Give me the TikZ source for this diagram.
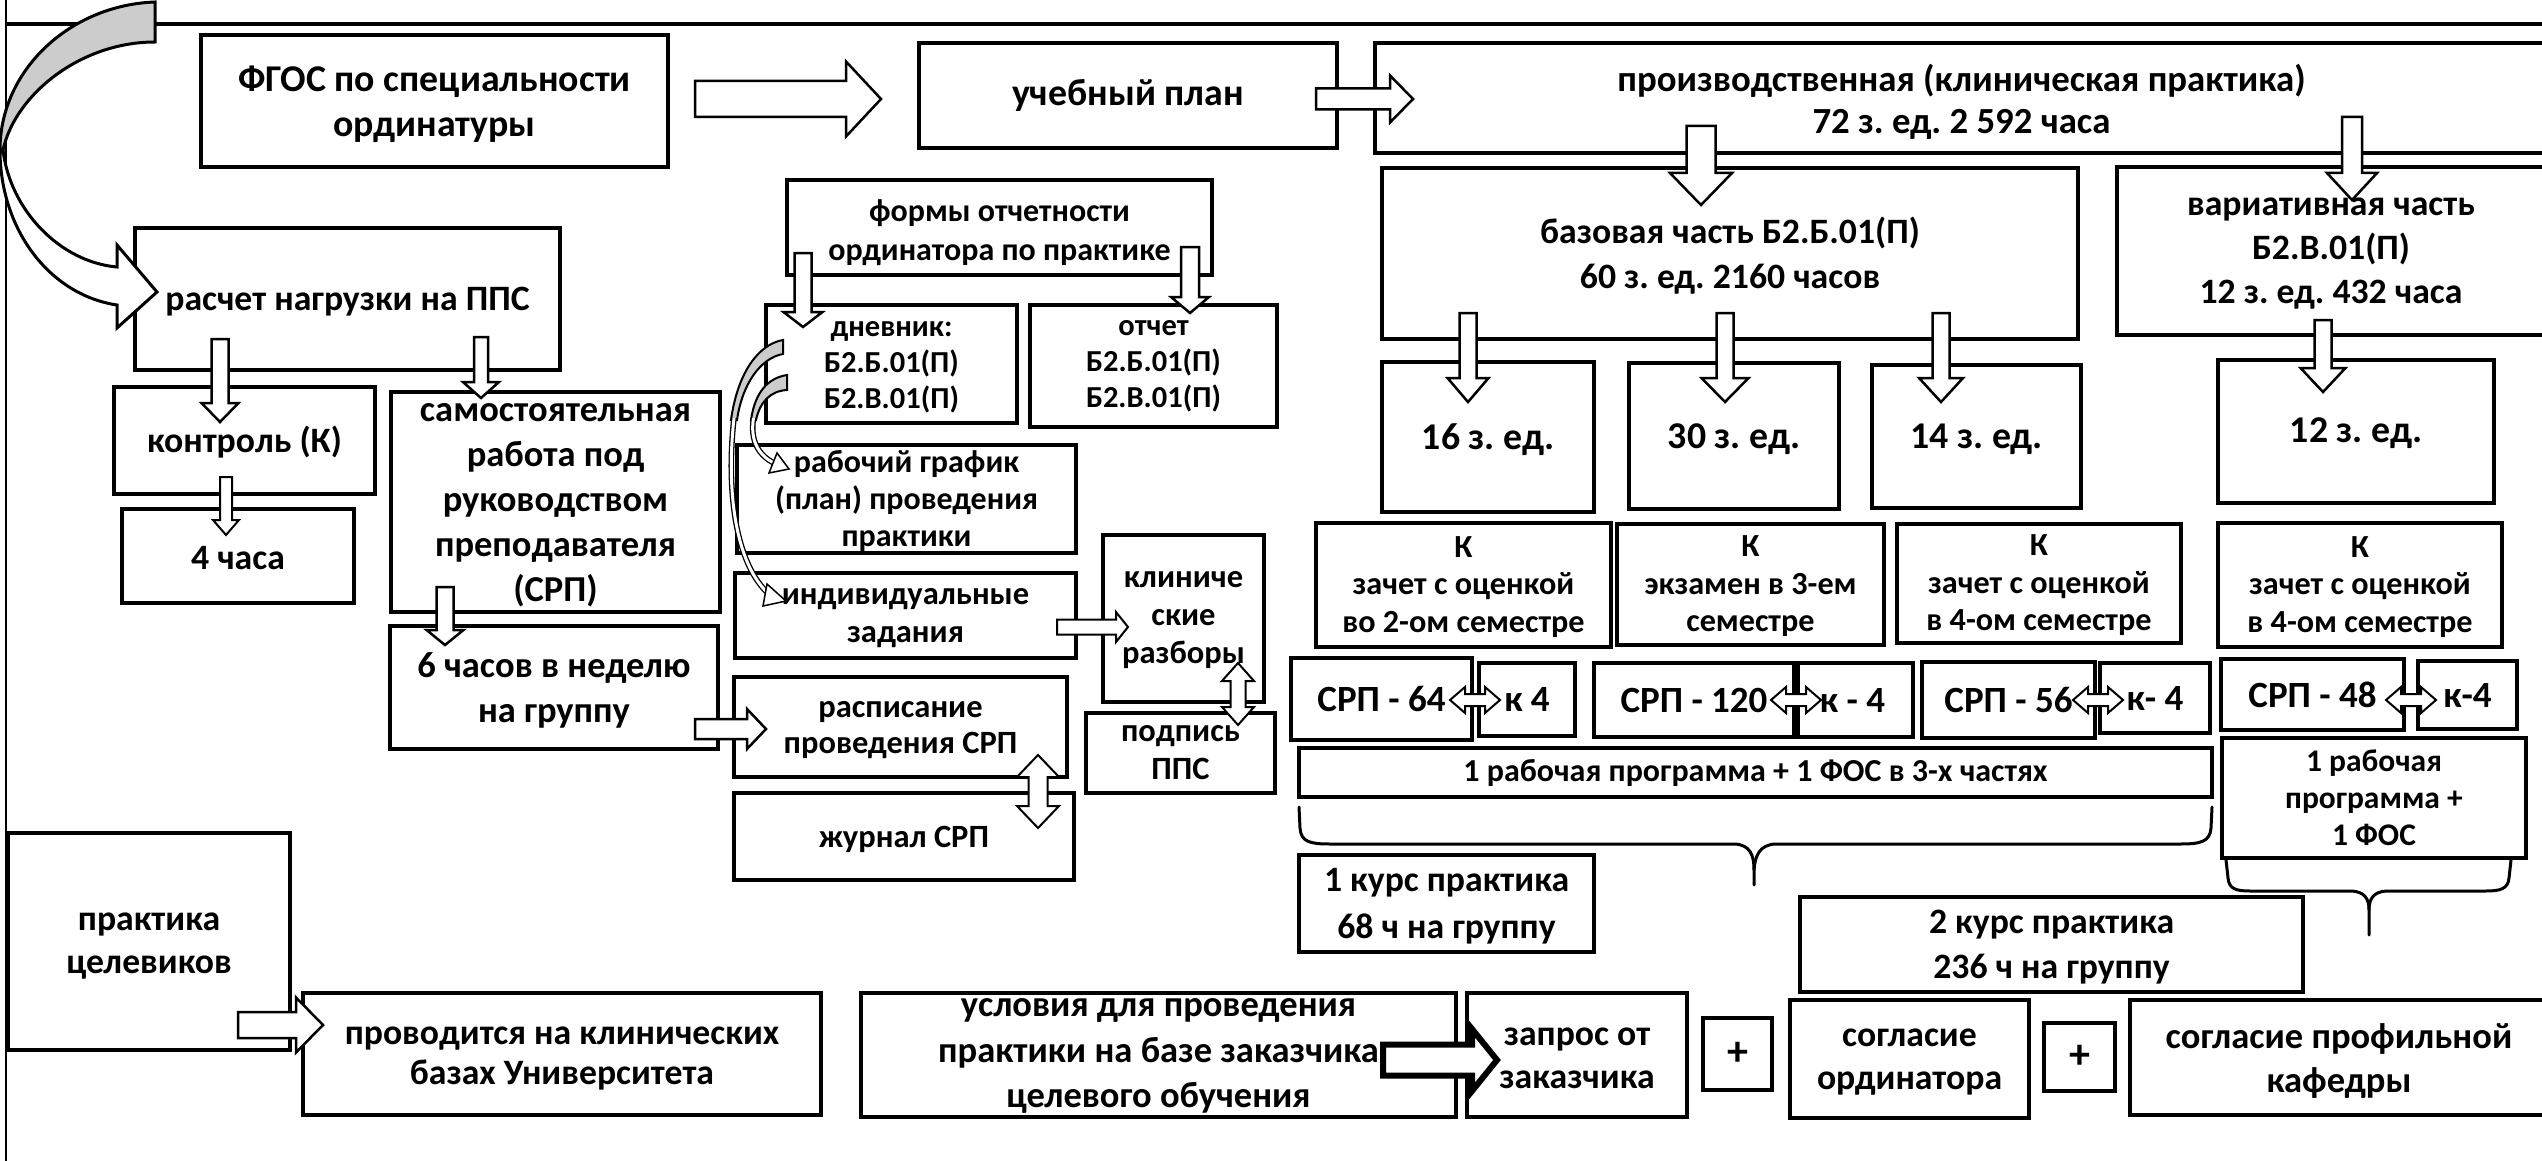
\documentclass[tikz,border=0pt]{standalone}
\usepackage{fontspec}
\setmainfont{Carlito}
\frenchspacing
\newcommand\fz[2]{\fontsize{#1pt}{#2pt}\selectfont}
% box: name, x1, y1, x2, y2, text
\newcommand\bx[7][]{%
  \node[box, minimum width={#5-#3}, minimum height={#6-#4}] (#2) at ({(#3+#5)/2},{(#4+#6)/2}) {};
  \node[txt,#1] (#2-t) at (#2.center) {#7};}
% down block arrow: x, ystart, ybase, ytip, shaft half, head half
\newcommand\arrD[7][]{%
  \filldraw[barrow,#1] ({#2-#6},#3) -- ({#2+#6},#3) -- ({#2+#6},#4) -- ({#2+#7},#4) -- (#2,#5) -- ({#2-#7},#4) -- ({#2-#6},#4) -- cycle;}
% right block arrow: y, xstart, xbase, xtip, shaft half, head half
\newcommand\arrR[7][]{%
  \filldraw[barrow,#1] (#3,{#2-#6}) -- (#4,{#2-#6}) -- (#4,{#2-#7}) -- (#5,#2) -- (#4,{#2+#7}) -- (#4,{#2+#6}) -- (#3,{#2+#6}) -- cycle;}
% vertical double arrow: x, ytop, ybottom, shaft half, head half, head len
\newcommand\darrV[6]{%
  \filldraw[barrow, line width=2pt] (#1,#2) -- ({#1+#5},{#2+#6}) -- ({#1+#4},{#2+#6}) -- ({#1+#4},{#3-#6}) -- ({#1+#5},{#3-#6}) -- (#1,#3) -- ({#1-#5},{#3-#6}) -- ({#1-#4},{#3-#6}) -- ({#1-#4},{#2+#6}) -- ({#1-#5},{#2+#6}) -- cycle;}
% horizontal double arrow: y, xleft, xright, shaft half, head half, head len
\newcommand\darrH[6]{%
  \filldraw[barrow, line width=2pt] (#2,#1) -- ({#2+#6},{#1-#5}) -- ({#2+#6},{#1-#4}) -- ({#3-#6},{#1-#4}) -- ({#3-#6},{#1-#5}) -- (#3,#1) -- ({#3-#6},{#1+#5}) -- ({#3-#6},{#1+#4}) -- ({#2+#6},{#1+#4}) -- ({#2+#6},{#1+#5}) -- cycle;}
\begin{document}
\begin{tikzpicture}[x=1pt,y=-1pt,
  box/.style={draw=black, line width=3.5pt, fill=white, inner sep=0pt, outer sep=0pt},
  txt/.style={align=center, inner sep=0pt, font=\bfseries\fz{35.7}{42}},
  barrow/.style={draw=black, line width=2.5pt, fill=white, line join=miter},
  ribbon/.style={draw=black, line width=2.5pt, fill=gray!40},
  brace/.style={draw=black, line width=3pt, line cap=round},
]
\useasboundingbox (0,0) rectangle (2542,1161);
\fill[white] (0,0) rectangle (2542,1161);

% frame
\draw[line width=1.5pt] (6,0) -- (6,1161);
\draw[line width=4.5pt] (6,24) -- (2560,24);

% top row
\bx[font=\bfseries\fz{37.8}{45}, yshift=-3]{fgos}{201}{35}{668}{167}{ФГОС по специальности\\ординатуры}
\bx[font=\bfseries\fz{37.8}{45}]{plan}{919}{43}{1337}{148}{учебный план}
\bx[font=\bfseries\fz{36.8}{42}, yshift=-4]{prod}{1375}{43}{2548}{153}{производственная (клиническая практика)\\72 з. ед. 2 592 часа}
\bx[font=\bfseries\fz{35.7}{45}, yshift=-2]{baz}{1382}{168}{2078}{339}{базовая часть Б2.Б.01(П)\\60 з. ед. 2160 часов}
\bx[font=\bfseries\fz{35.7}{44}, yshift=-3]{var}{2117}{167}{2545}{335}{вариативная часть\\Б2.В.01(П)\\12 з. ед. 432 часа}

% left column
\bx[yshift=-3]{rasch}{135}{228}{560}{370}{расчет нагрузки на ППС}
\bx[yshift=-2]{kontr}{114}{387}{375}{494}{контроль (К)}
\bx[yshift=-2]{chas4}{122}{509}{354}{603}{4 часа}
\bx[font=\bfseries\fz{36.5}{45}, yshift=-3]{samost}{391}{392}{720}{612}{самостоятельная\\работа под\\руководством\\преподавателя\\(СРП)}
\bx[font=\bfseries\fz{36.5}{45}, yshift=-3]{shest}{390}{626}{718}{749}{6 часов в неделю\\на группу}

% middle column
\bx[font=\bfseries\fz{32}{39}, yshift=-5]{formy}{787}{180}{1212}{275}{формы отчетности\\ординатора по практике}
\bx[font=\bfseries\fz{30.5}{36}, yshift=-3]{dnev}{766}{305}{1017}{423}{дневник:\\Б2.Б.01(П)\\Б2.В.01(П)}
\bx[font=\bfseries\fz{30.5}{36}]{otch}{1030}{305}{1277}{427}{отчет\\Б2.Б.01(П)\\Б2.В.01(П)}
\bx[font=\bfseries\fz{32}{37}, yshift=-2]{graf}{737}{445}{1076}{553}{рабочий график\\(план) проведения\\практики}
\bx[font=\bfseries\fz{32.5}{38}, yshift=-3]{indiv}{735}{573}{1076}{658}{индивидуальные\\задания}
\bx[font=\bfseries\fz{32.5}{36}, yshift=-3]{rasp}{734}{677}{1067}{777}{расписание\\проведения СРП}
\bx[font=\bfseries\fz{32.5}{38}, yshift=-3]{zhur}{734}{793}{1074}{880}{журнал СРП}
\bx[font=\bfseries\fz{32.5}{38}, yshift=-2]{klin}{1103}{535}{1264}{702}{клиниче\\ские\\разборы}
\bx[font=\bfseries\fz{32.5}{38}]{podp}{1086}{713}{1275}{793}{подпись\\ППС}

% credits boxes
\bx[font=\bfseries\fz{37.8}{44}, yshift=-3]{z16}{1382}{362}{1594}{512}{16 з. ед.}
\bx[font=\bfseries\fz{37.8}{44}, yshift=-3]{z30}{1629}{363}{1839}{509}{30 з. ед.}
\bx[font=\bfseries\fz{37.8}{44}, yshift=-3]{z14}{1872}{365}{2081}{508}{14 з. ед.}
\bx[font=\bfseries\fz{37.8}{44}, yshift=-2]{z12}{2218}{360}{2494}{503}{12 з. ед.}

% control boxes
\bx[font=\bfseries\fz{32.2}{37.5}, yshift=-2]{k1}{1316}{523}{1611}{647}{К\\зачет с оценкой\\во 2-ом семестре}
\bx[font=\bfseries\fz{32.2}{37.5}, yshift=-2]{k2}{1617}{524}{1884}{645}{К\\экзамен в 3-ем\\семестре}
\bx[font=\bfseries\fz{32.2}{37.5}, yshift=-2]{k3}{1897}{524}{2181}{643}{К\\зачет с оценкой\\в 4-ом семестре}
\bx[font=\bfseries\fz{32.2}{37.5}, yshift=-2]{k4}{2218}{523}{2502}{647}{К\\зачет с оценкой\\в 4-ом семестре}

% SRP row
\bx[font=\bfseries\fz{37}{44}]{srpa}{1291}{658}{1472}{740}{СРП - 64}
\bx[font=\bfseries\fz{37}{44}]{ka}{1479}{663}{1575}{736}{к 4}
\bx[font=\bfseries\fz{37}{44}]{srpb}{1594}{663}{1794}{737}{СРП - 120}
\bx[font=\bfseries\fz{37}{44}, xshift=-3]{kb}{1798}{663}{1913}{737}{к - 4}
\bx[font=\bfseries\fz{37}{44}]{srpc}{1922}{662}{2095}{738}{СРП - 56}
\bx[font=\bfseries\fz{37}{44}]{kc}{2100}{663}{2210}{733}{к- 4}
\bx[font=\bfseries\fz{37}{44}]{srpd}{2221}{659}{2404}{730}{СРП - 48}
\bx[font=\bfseries\fz{37}{44}]{kd}{2418}{661}{2517}{729}{к-4}

\bx[font=\bfseries\fz{32}{37}]{rpa}{1299}{748}{2212}{797}{1 рабочая программа + 1 ФОС в 3-х частях}
\bx[font=\bfseries\fz{31.5}{37}]{rpb}{2222}{738}{2526}{858}{1 рабочая\\программа +\\1 ФОС}

\bx[font=\bfseries\fz{35.7}{47}, yshift=-3]{kurs1}{1299}{855}{1594}{952}{1 курс практика\\68 ч на группу}
\bx[font=\bfseries\fz{35.7}{45}, yshift=-3]{kurs2}{1800}{897}{2303}{992}{2 курс практика\\236 ч на группу}

% bottom row
\bx[font=\bfseries\fz{35.7}{43}, yshift=-5]{celev}{8}{833}{290}{1050}{практика\\целевиков}
\bx[font=\bfseries\fz{35.7}{40}, yshift=-4]{provod}{303}{993}{821}{1115}{проводится на клинических\\базах Университета}
\bx[font=\bfseries\fz{36.5}{45.5}, yshift=-1]{uslov}{861}{993}{1456}{1117}{условия для проведения\\практики на базе заказчика\\целевого обучения}
\bx[font=\bfseries\fz{35.7}{43}, yshift=-3]{zapros}{1467}{993}{1687}{1117}{запрос от\\заказчика}
\bx[font=\bfseries\fz{42}{44}]{plusa}{1703}{1018}{1772}{1090}{+}
\bx[font=\bfseries\fz{35.7}{43}, yshift=-3]{soglo}{1790}{1000}{2029}{1118}{согласие\\ординатора}
\bx[font=\bfseries\fz{42}{44}]{plusb}{2044}{1023}{2115}{1091}{+}
\bx[font=\bfseries\fz{36.5}{44}, yshift=-3]{soglk}{2130}{1000}{2548}{1115}{согласие профильной\\кафедры}

% block arrows
\arrR{99}{695}{846}{881}{18}{37.5}
\arrR{99}{1316}{1390}{1413}{10.5}{23.5}
\arrD{1701}{126}{173}{205}{14.5}{31}
\arrD{2352}{117}{173}{200}{10}{25}
\arrD{1468}{313}{378}{402}{8.5}{20.5}
\arrD{1725}{313}{378}{402}{8.5}{23.5}
\arrD{1941}{313}{378}{402}{8.5}{22}
\arrD{2323}{320}{368}{392}{8.5}{22.5}
\arrD{220}{339}{403}{422}{8.5}{18.5}
\arrD{481}{337}{382}{398}{7}{18}
\arrD[line width=2pt]{226}{477}{520}{535}{6}{13}
\arrD{445}{587}{630}{645}{8.5}{18.5}
\arrR{729}{695}{747}{766}{10}{20}
\arrD{803}{253}{312}{327}{8.5}{19.5}
\arrD{1190}{247}{297}{313}{9}{19}
\arrR[line width=2pt]{627}{1057}{1116}{1128}{7.5}{15}
\arrR{1025}{238}{296}{323}{13}{27.5}
\arrR[line width=6pt]{1060}{1383}{1472}{1497}{15.5}{31}
\darrV{1238}{663}{725}{7.5}{16}{18}
\darrV{1038}{755}{828}{9.5}{21}{22}
\darrH{700}{1450}{1500}{6}{13}{15}
\darrH{700}{1771}{1821}{6}{13}{15}
\darrH{700}{2073}{2123}{6}{13}{15}
\darrH{700}{2386}{2436}{6}{13}{15}

% big curved arrow (top left)
\filldraw[ribbon, line width=3pt] (155,2) .. controls (70,5) and (0,70) .. (0,150) -- (3,150) .. controls (15,95) and (80,42) .. (155,42) -- cycle;
\filldraw[barrow, line width=3pt] (3,150) .. controls (10,210) and (60,262) .. (117,267) -- (117,245) -- (157,292) -- (117,328) -- (117,305) .. controls (50,295) and (0,230) .. (0,150) -- cycle;

% small curved arrows from the diary
\filldraw[ribbon, line width=2pt] (783,340) .. controls (760,344) and (738,370) .. (731,420) -- (737,420) .. controls (742,385) and (760,358) .. (783,354) -- cycle;
\draw[line width=1.3pt, double=white, double distance=3pt] (734,418) .. controls (726,490) and (735,565) .. (770,595);
\filldraw[barrow, line width=1.5pt] (767,584) -- (786,601) -- (763,606) -- cycle;
\filldraw[ribbon, line width=2pt] (787,375) .. controls (768,378) and (755,392) .. (751,420) -- (756,420) .. controls (760,402) and (770,391) .. (787,390) -- cycle;
\draw[line width=1.3pt, double=white, double distance=3pt] (753.5,418) .. controls (750,440) and (758,455) .. (774,463);
\filldraw[barrow, line width=1.5pt] (777,453) -- (789,469) -- (769,473) -- cycle;

% braces
\draw[brace] (1299,807) -- (1300,828) .. controls (1301,842) and (1310,844) .. (1330,844) -- (1735,844) .. controls (1750,845) and (1754,855) .. (1754,870) -- (1754,885);
\draw[brace] (2212,807) -- (2211,828) .. controls (2210,842) and (2200,844) .. (2180,844) -- (1775,844) .. controls (1760,845) and (1755,855) .. (1754,870);
\draw[brace] (2226,860) -- (2228,878) .. controls (2229,889) and (2236,891) .. (2250,891) -- (2352,891) .. controls (2364,892) and (2369,898) .. (2369,910) -- (2369,935);
\draw[brace] (2511,860) -- (2509,878) .. controls (2508,889) and (2500,891) .. (2486,891) -- (2386,891) .. controls (2374,892) and (2369,898) .. (2369,910);
\end{tikzpicture}
\end{document}
